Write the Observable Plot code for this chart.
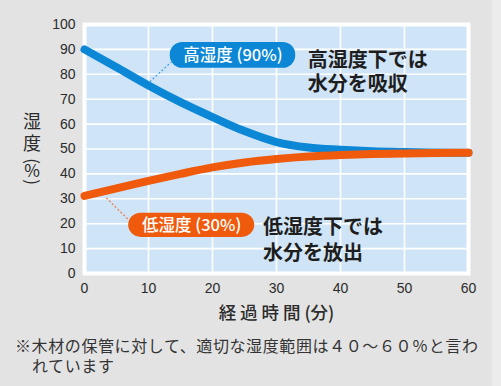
<!DOCTYPE html>
<html><head><meta charset="utf-8">
<script src="https://cdn.jsdelivr.net/npm/d3@7"></script>
<script src="https://cdn.jsdelivr.net/npm/@observablehq/plot@0.6"></script>
<style>
html,body{margin:0;padding:0;}
body{width:501px;height:386px;overflow:hidden;background:linear-gradient(to right,#e3e3e3 492px,#ececec 492px);font-family:"Noto Sans CJK JP",sans-serif;}
#chart svg{display:block;}
#caption{padding:5px 0 0 15px;font-size:16px;line-height:20px;letter-spacing:0.6px;color:#333;white-space:nowrap;}
#caption .l2{padding-left:17px;}
</style></head>
<body>
<div id="chart"></div>
<div id="caption"><div>※木材の保管に対して、適切な湿度範囲は４０～６０％と言わ</div><div class="l2">れています</div></div>
<script>
// Data
const minutes = [0,5,10,15,20,25,30,35,40,45,50,55,60];
const highHumidity = [90,82.8,75.5,68.8,62.8,57.2,52.8,50.6,49.7,49.1,48.8,48.6,48.5];
const lowHumidity  = [31.2,34.2,37.2,40,42.6,44.6,46,47,47.6,48,48.2,48.4,48.5];
const xTicks = [0,10,20,30,40,50,60];
const yTicks = [0,10,20,30,40,50,60,70,80,90,100];
const xLabel = "経 過 時 間 (分)";
const yLabelGlyphs = ["湿","度","(","%",")"];
const pillLabels = ["高湿度 (90%)","低湿度 (30%)"];
const notes = ["高湿度下では\n水分を吸収","低湿度下では\n水分を放出"];

const blue = "#0b87d6", orange = "#f05a0c";
const high = minutes.map((m,i)=>({m, v: highHumidity[i]}));
const low = minutes.map((m,i)=>({m, v: lowHumidity[i]}));

const pills = [
  {label: pillLabels[0], x1: 13.4, x2: 33.0, y1: 82.4, y2: 92.8, cx: 23.2, cy: 87.6, color: blue},
  {label: pillLabels[1], x1: 6.9, x2: 26.6, y1: 14.5, y2: 24.2, cx: 16.75, cy: 19.35, color: orange}
];
const leaders = [
  {x1: 10.2, y1: 77, x2: 13.6, y2: 85, color: "#3d9fe2"},
  {x1: 3.4, y1: 30.4, x2: 6.9, y2: 21.5, color: "#f0753a"}
];

const cjk = "Noto Sans CJK JP";
const chart = Plot.plot({
  width: 501, height: 330,
  marginLeft: 84, marginRight: 33, marginTop: 24, marginBottom: 57,
  style: {background: "transparent", fontFamily: "Liberation Sans, Arial, sans-serif", color: "#2b2b2b"},
  x: {domain: [0,60]},
  y: {domain: [0,100]},
  marks: [
    Plot.frame({fill: "#cfe4f6", stroke: "white", strokeWidth: 4}),
    Plot.gridX(xTicks, {stroke: "white", strokeOpacity: 1, strokeWidth: 1.6}),
    Plot.gridY(yTicks, {stroke: "white", strokeOpacity: 1, strokeWidth: 1.6}),
    Plot.axisX(xTicks, {tickSize: 0, tickPadding: 10, fontSize: 14, label: null, fill: "#2b2b2b"}),
    Plot.axisY(yTicks, {tickSize: 0, tickPadding: 9, fontSize: 14, label: null, fill: "#2b2b2b"}),
    Plot.link(leaders, {x1: "x1", y1: "y1", x2: "x2", y2: "y2", stroke: "color", strokeWidth: 1.2, strokeDasharray: "2,2"}),
    Plot.line(high, {x: "m", y: "v", stroke: blue, strokeWidth: 8, curve: "monotone-x"}),
    Plot.line(low, {x: "m", y: "v", stroke: orange, strokeWidth: 8, curve: "monotone-x"}),
    Plot.rect(pills, {x1: "x1", x2: "x2", y1: "y1", y2: "y2", fill: "color", rx: 12.5}),
    Plot.text(pills, {x: "cx", y: "cy", text: "label", fill: "white", fontSize: 16.5, fontFamily: cjk, fontWeight: 500}),
    Plot.text([notes[0]], {x: 34.9, y: 81.2, textAnchor: "start", lineAnchor: "middle", lineHeight: 1.17, fontSize: 20, fontFamily: cjk, fontWeight: 600, fill: "#1e1e1e"}),
    Plot.text([notes[1]], {x: 27.9, y: 14.1, textAnchor: "start", lineAnchor: "middle", lineHeight: 1.3, fontSize: 20, fontFamily: cjk, fontWeight: 600, fill: "#1e1e1e"}),
    Plot.text([xLabel], {frameAnchor: "bottom", dy: 45, fontSize: 17.5, fontFamily: cjk, fontWeight: 500, fill: "#2b2b2b"})
  ]
});
document.getElementById("chart").append(chart);

// vertical y-axis label (湿 度 with sideways parentheses round an upright %)
const ys = chart.scale("y");
const svg = d3.select(chart);
const baseY = ys.apply(60.6);
const offsets = [0, 22, 39, 49, 60];
const rotated = [false, false, true, false, true];
svg.append("g").attr("font-family", cjk).attr("fill", "#2b2b2b").attr("text-anchor", "middle")
  .selectAll("text").data(yLabelGlyphs).join("text")
  .attr("transform", (d,i) => `translate(32,${baseY + offsets[i]})` + (rotated[i] ? " rotate(90)" : ""))
  .attr("dy", "0.35em")
  .attr("font-size", (d,i) => (rotated[i] || i === 3) ? 17 : 18)
  .text(d => d);
</script>
</body></html>
